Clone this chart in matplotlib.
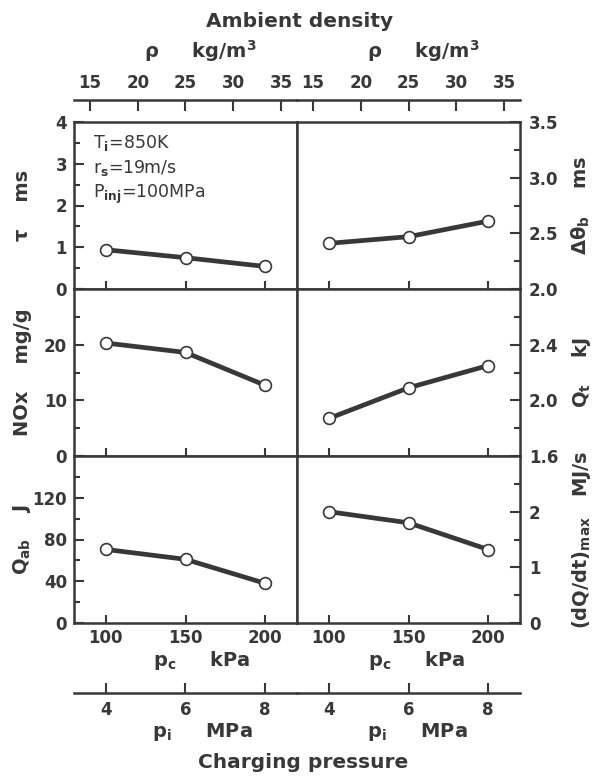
import matplotlib
matplotlib.use("Agg")
import matplotlib.pyplot as plt
from matplotlib.ticker import MultipleLocator

# data (x = charging pressure p_c, kPa)
pc = [100, 150, 200]
tau = [0.94, 0.75, 0.54]
dtheta_b = [2.41, 2.47, 2.61]
nox = [20.3, 18.6, 12.7]
q_t = [1.87, 2.09, 2.25]
q_ab = [70.5, 61.0, 38.0]
dqdt_max = [2.0, 1.8, 1.32]

pc_ticks = [100, 150, 200]
rho_ticks = [15, 20, 25, 30, 35]
pi_ticks = [4, 6, 8]

tau_ticks, tau_labels = [0, 1, 2, 3, 4], ["0", "1", "2", "3", "4"]
dtheta_ticks, dtheta_labels = [2.0, 2.5, 3.0, 3.5], ["2.0", "2.5", "3.0", "3.5"]
nox_ticks, nox_labels = [0, 10, 20, 30], ["0", "10", "20", ""]
qt_ticks, qt_labels = [1.6, 2.0, 2.4, 2.8], ["1.6", "2.0", "2.4", ""]
qab_ticks, qab_labels = [0, 40, 80, 120, 160], ["0", "40", "80", "120", ""]
dqdt_ticks, dqdt_labels = [0, 1, 2, 3], ["0", "1", "2", ""]

INK = "#383838"
W, H = 594, 776

plt.rcParams.update({
    "font.family": "DejaVu Sans",
    "font.weight": "bold",
    "axes.labelweight": "bold",
    "mathtext.fontset": "dejavusans",
    "axes.edgecolor": INK,
    "axes.linewidth": 1.8,
    "xtick.color": INK,
    "ytick.color": INK,
    "text.color": INK,
    "axes.labelcolor": INK,
})


def fx(px):
    return px / W


def fy(py):
    return 1 - py / H


fig = plt.figure(figsize=(W / 100, H / 100), dpi=100)

col_x = [74, 297]
row_top = [122, 289, 456]
aw, ah = 223, 167
TICK_FS = 12

panels = [
    (0, 0, tau, tau_ticks, tau_labels, 0.5, "τ    ms"),
    (0, 1, dtheta_b, dtheta_ticks, dtheta_labels, 0.25, "Δθ$_\\mathbf{b}$    ms"),
    (1, 0, nox, nox_ticks, nox_labels, 5, "NOx    mg/g"),
    (1, 1, q_t, qt_ticks, qt_labels, 0.2, "Q$_\\mathbf{t}$    kJ"),
    (2, 0, q_ab, qab_ticks, qab_labels, 20, "Q$_\\mathbf{ab}$    J"),
    (2, 1, dqdt_max, dqdt_ticks, dqdt_labels, 0.5, "(dQ/dt)$_\\mathbf{max}$   MJ/s"),
]

for row, col, y, yt, yl, minor, ylabel in panels:
    ax = fig.add_axes([fx(col_x[col]), fy(row_top[row] + ah), aw / W, ah / H])
    ax.plot(pc, y, color=INK, lw=3.4, marker="o", ms=8.5, mfc="white",
            mec=INK, mew=1.2, zorder=3, clip_on=False)
    ax.set_xlim(80, 220)
    ax.set_ylim(yt[0], yt[-1])
    ax.set_xticks(pc_ticks)
    ax.set_yticks(yt, yl)
    ax.yaxis.set_minor_locator(MultipleLocator(minor))
    ax.tick_params(axis="x", direction="in", length=6, width=1.5,
                   labelsize=TICK_FS, pad=4.5, labelbottom=(row == 2))
    if col == 0:
        ax.tick_params(axis="y", which="both", direction="in", left=True,
                       right=False, labelsize=TICK_FS, pad=5, width=1.5)
        lx = -0.232
    else:
        ax.yaxis.tick_right()
        ax.tick_params(axis="y", which="both", direction="in", left=False,
                       right=True, labelsize=TICK_FS, pad=6.5, width=1.5)
        lx = 1.274
    ax.tick_params(axis="y", which="major", length=7)
    ax.tick_params(axis="y", which="minor", length=4)
    ax.set_ylabel(ylabel, fontsize=14, fontweight="bold", rotation=90, va="center")
    ax.yaxis.set_label_coords(lx, 0.5)

    if row == 0:
        top = ax.secondary_xaxis(1.132, functions=(lambda p: p / 6, lambda r: r * 6))
        top.set_xticks(rho_ticks)
        top.tick_params(direction="in", length=8, width=1.5, labelsize=TICK_FS, pad=5.5)
        top.spines["top"].set_linewidth(1.8)
    if row == 2:
        bot = ax.secondary_xaxis(-0.419, functions=(lambda p: p / 25, lambda v: v * 25))
        bot.set_xticks(pi_ticks)
        bot.tick_params(direction="in", length=7, width=1.5, labelsize=TICK_FS, pad=5.5)
        bot.spines["bottom"].set_linewidth(1.8)

# condition note in the first panel
notes = ["T$_\\mathrm{i}$=850K", "r$_\\mathrm{s}$=19m/s", "P$_\\mathrm{inj}$=100MPa"]
for i, s in enumerate(notes):
    fig.text(fx(93), fy(148 + 25 * i), s, fontsize=12.5, fontweight="normal",
             va="baseline", ha="left")

# outer axis titles
fig.text(fx(300), fy(27), "Ambient density", fontsize=14.5, ha="center", va="baseline")
for cx in (200, 423):
    fig.text(fx(cx), fy(58), "ρ     kg/m$^\\mathbf{3}$", fontsize=14,
             ha="center", va="baseline")
for cx in (202, 417):
    fig.text(fx(cx), fy(666), "p$_\\mathbf{c}$     kPa", fontsize=14,
             ha="center", va="baseline")
    fig.text(fx(cx), fy(737), "p$_\\mathbf{i}$     MPa", fontsize=14,
             ha="center", va="baseline")
fig.text(fx(303), fy(768), "Charging pressure", fontsize=14.5, ha="center", va="baseline")

fig.savefig("out.png", dpi=100)
